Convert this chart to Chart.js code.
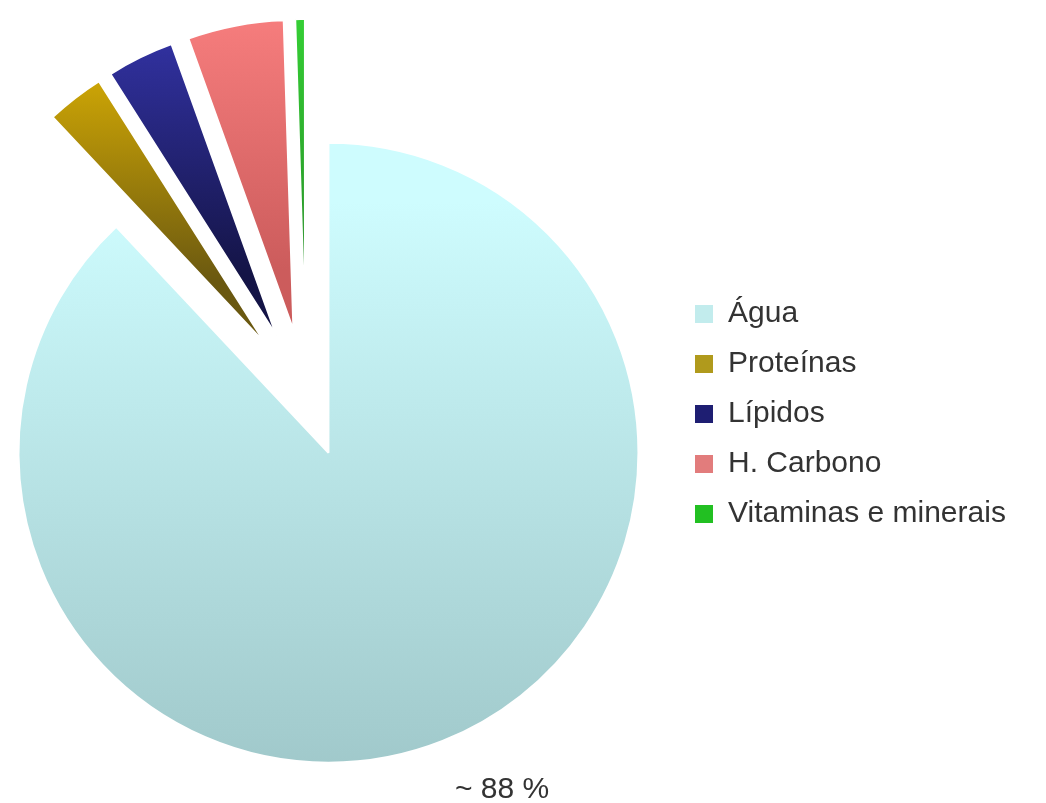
<!DOCTYPE html>
<html>
<head>
<meta charset="utf-8">
<script src="https://cdn.jsdelivr.net/npm/chart.js@4"></script>
<style>
  html, body { margin: 0; padding: 0; background: #fff; overflow: hidden; }
  #wrap { position: absolute; left: -65px; top: 0; width: 1111px; height: 803px; }
</style>
</head>
<body>
<div id="wrap"><canvas id="pie-chart"></canvas></div>
<script>
var labels = ["Água", "Proteínas", "Lípidos", "H. Carbono", "Vitaminas e minerais"];
var values = [88, 3, 3.5, 5, 0.5];
var waterLabel = "~ 88 %";

// how far each slice is pulled out of the pie (px)
var explode = [61, 67, 67, 67, 67];

// top / bottom colour of each slice gradient
var shades = [
  ["#cefcfe", "#9cc4c6"],
  ["#ffcc00", "#6a5810"],
  ["#3a3abb", "#141446"],
  ["#ff8484", "#cc5c5c"],
  ["#38dd38", "#279027"]
];
var legendColors = ["#c2eced", "#b09a1c", "#1e1e72", "#e27c7c", "#22c022"];

function sliceFill(context) {
  var chart = context.chart;
  var area = chart.chartArea;
  if (!area) return shades[context.dataIndex][0];
  var i = context.dataIndex;
  var y0 = i === 0 ? area.top + 145 : area.top + 30;
  var y1 = i === 0 ? area.top + 763 : area.top + 335;
  var g = chart.ctx.createLinearGradient(0, y0, 0, y1);
  g.addColorStop(0, shades[i][0]);
  g.addColorStop(1, shades[i][1]);
  return g;
}

// pulls slices out along their middle angle, keeping their true size and angle
var explodeSlices = {
  id: "explodeSlices",
  afterUpdate: function (chart) {
    chart.getDatasetMeta(0).data.forEach(function (arc, i) {
      if (arc._exploded) return;
      var draw = arc.draw;
      arc.draw = function (c) {
        var mid = (this.startAngle + this.endAngle) / 2;
        c.save();
        c.translate(Math.cos(mid) * explode[i], Math.sin(mid) * explode[i]);
        draw.call(this, c);
        c.restore();
      };
      arc._exploded = true;
    });
  }
};

var legendPlace = {
  id: "legendPlace",
  beforeInit: function (chart) {
    var fit = chart.legend.fit;
    chart.legend.fit = function () {
      fit.call(this);
      this.width = 369;
    };
  },
  afterLayout: function (chart) {
    chart.legend.left -= 2;
    chart.legend.right -= 2;
    chart.legend.top += 18;
    chart.legend.bottom += 18;
  }
};

var sliceLabel = {
  id: "sliceLabel",
  afterDraw: function (chart) {
    var arc = chart.getDatasetMeta(0).data[0];
    var mid = (arc.startAngle + arc.endAngle) / 2;
    var cx = arc.x + Math.cos(mid) * explode[0];
    var cy = arc.y + Math.sin(mid) * explode[0];
    var r = arc.outerRadius;
    var ctx = chart.ctx;
    ctx.save();
    ctx.font = "30px 'Liberation Sans', Arial, sans-serif";
    ctx.fillStyle = "#333";
    ctx.textAlign = "center";
    ctx.textBaseline = "alphabetic";
    ctx.fillText(waterLabel, cx + r * 0.56, cy + r + 35);
    ctx.restore();
  }
};

var baseLabels = Chart.DoughnutController.overrides.plugins.legend.labels.generateLabels;

var ctx = document.getElementById("pie-chart").getContext("2d");
new Chart(ctx, {
  type: "pie",
  data: {
    labels: labels,
    datasets: [
      {
        data: values,
        backgroundColor: sliceFill,
        borderColor: "#ffffff",
        borderWidth: 2,
        radius: 310
      }
    ]
  },
  options: {
    responsive: true,
    maintainAspectRatio: false,
    animation: false,
    layout: { padding: { bottom: 11 } },
    plugins: {
      tooltip: { enabled: false },
      legend: {
        position: "right",
        labels: {
          boxWidth: 18,
          boxHeight: 18,
          padding: 20,
          color: "#333",
          font: { family: "'Liberation Sans', Arial, sans-serif", size: 30 },
          generateLabels: function (chart) {
            var items = baseLabels(chart);
            items.forEach(function (item, i) {
              item.fillStyle = legendColors[i];
              item.strokeStyle = "#ffffff";
              item.lineWidth = 0;
            });
            return items;
          }
        }
      }
    }
  },
  plugins: [explodeSlices, legendPlace, sliceLabel]
});
</script>
</body>
</html>
